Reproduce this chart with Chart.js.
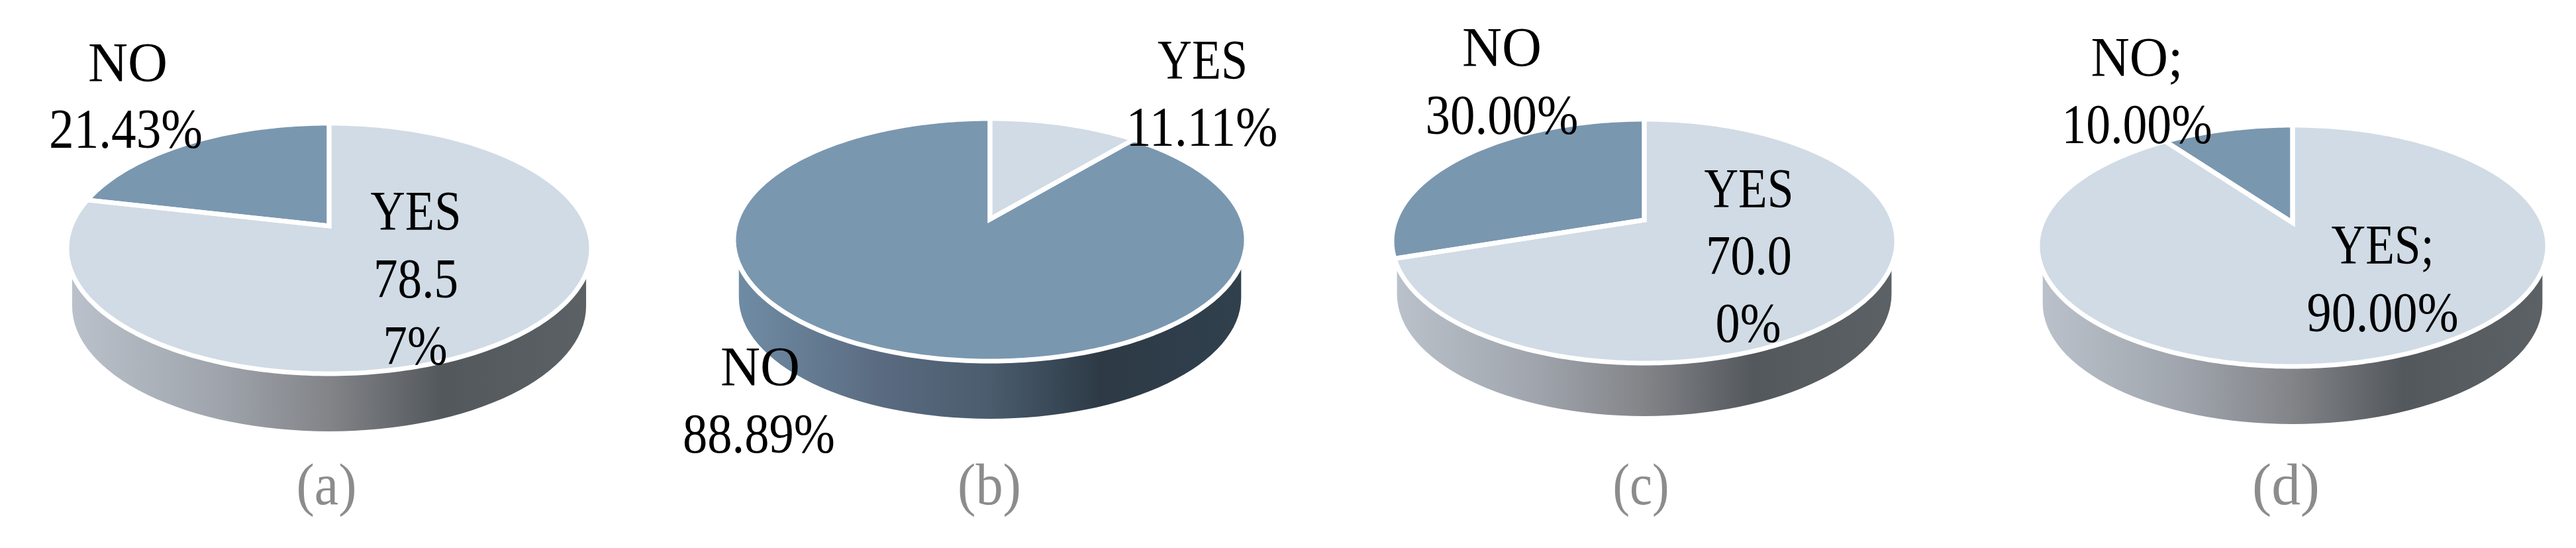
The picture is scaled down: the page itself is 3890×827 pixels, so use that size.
<!DOCTYPE html>
<html>
<head>
<meta charset="utf-8">
<style>
  html, body { margin: 0; background: #fff; }
  #page { position: relative; width: 3890px; height: 827px; overflow: hidden; }
  canvas { position: absolute; top: 0; }
</style>
</head>
<body>
<div id="page"></div>
<script src="https://cdn.jsdelivr.net/npm/chart.js@4/dist/chart.umd.js"></script>
<script>
// ---- Data: slices run clockwise from 12 o'clock ----
const categories = ['YES', 'NO'];
const valuesA = [78.57, 21.43];
const valuesB = [11.11, 88.89];
const valuesC = [70.0, 30.0];
const valuesD = [90.0, 10.0];
const captions = ['(a)', '(b)', '(c)', '(d)'];

// Label text as it wraps in the figure
const linesA = ['NO', '21.43%', 'YES', '78.5', '7%'];
const linesB = ['YES', '11.11%', 'NO', '88.89%'];
const linesC = ['NO', '30.00%', 'YES', '70.0', '0%'];
const linesD = ['NO;', '10.00%', 'YES;', '90.00%'];

// ---- Layout, in page pixels. at = [centre x, baseline y, text width] ----
const panels = [
  { values: valuesA, lines: linesA, slot: [0, 1000], cx: 497, cy: 375, rx: 396, ry: 189, depth: 87, apex: -0.18, cap: [493, 91],
    at: [[193, 123, 120], [190, 223, 232], [628, 347, 137], [628, 449, 128], [627, 550, 97]] },
  { values: valuesB, lines: linesB, slot: [1000, 1990], cx: 1495, cy: 362, rx: 387, ry: 183, depth: 87, apex: -0.17, cap: [1494, 96],
    at: [[1816, 119, 136], [1815, 220, 229], [1148, 582, 120], [1146, 683, 230]] },
  { values: valuesC, lines: linesC, slot: [1990, 2960], cx: 2483, cy: 364, rx: 381, ry: 184, depth: 80, apex: -0.174, cap: [2478, 85],
    at: [[2268, 100, 120], [2268, 202, 231], [2641, 313, 135], [2641, 414, 130], [2640, 516, 99]] },
  { values: valuesD, lines: linesD, slot: [2960, 3890], cx: 3462, cy: 371, rx: 385, ry: 182, depth: 87, apex: -0.192, cap: [3452, 102],
    at: [[3227, 115, 139], [3227, 216, 227], [3598, 398, 155], [3598, 500, 229]] },
];
const PAGE_H = 827;
const CAPTION_Y = 761;

const faceColors = ['#d0dbe5', '#7a97b0'];
// side wall shading, left to right, one ramp per category
const wallStops = [
  ['#bac1ca', '#a0a5ad', '#828488', '#53585c', '#5b6165'],
  ['#6f8ca4', '#5a6b81', '#4a5c6d', '#2d3a46', '#30404d'],
];
const wallPos = [0, 0.28, 0.5, 0.72, 1];

// Maps a circle angle onto the tilted disc. The centre lands on the apex,
// above the middle of the ellipse, the way a perspective 3D pie does.
function project(arc, angle, cfg) {
  const u = Math.cos(angle), v = Math.sin(angle), a = cfg.apex;
  const den = 1 + a * v;
  return {
    x: arc.x + arc.outerRadius * u * Math.sqrt(1 - a * a) / den,
    y: arc.y + cfg.ry * (v + a) / den,
  };
}

function drawWall(ctx, arc, index, cfg) {
  const wrx = arc.outerRadius * 0.98;
  const g = ctx.createLinearGradient(arc.x - wrx, 0, arc.x + wrx, 0);
  wallStops[index].forEach((c, i) => g.addColorStop(wallPos[i], c));
  ctx.beginPath();
  ctx.moveTo(arc.x - wrx, arc.y);
  ctx.lineTo(arc.x - wrx, arc.y + cfg.depth);
  ctx.ellipse(arc.x, arc.y + cfg.depth, wrx, cfg.ry, 0, Math.PI, 0, true);
  ctx.lineTo(arc.x + wrx, arc.y);
  ctx.closePath();
  ctx.fillStyle = g;
  ctx.fill();
}

function traceSlice(ctx, arc, cfg) {
  ctx.beginPath();
  ctx.moveTo(arc.x, arc.y + cfg.ry * cfg.apex);
  const steps = Math.ceil((arc.endAngle - arc.startAngle) * 180 / Math.PI);
  for (let i = 0; i <= steps; i++) {
    const p = project(arc, arc.startAngle + (arc.endAngle - arc.startAngle) * i / steps, cfg);
    ctx.lineTo(p.x, p.y);
  }
  ctx.closePath();
}

const tiltedPie = {
  id: 'tiltedPie',
  beforeDatasetsDraw(chart, args, cfg) {
    const ctx = chart.ctx;
    const arcs = chart.getDatasetMeta(0).data;
    // the slice at 6 o'clock owns the visible wall
    const front = arcs.findIndex((a) => a.startAngle <= Math.PI / 2 && a.endAngle >= Math.PI / 2);
    ctx.save();
    drawWall(ctx, arcs[front], front, cfg);
    arcs.forEach((arc) => {
      traceSlice(ctx, arc, cfg);
      ctx.fillStyle = arc.options.backgroundColor;
      ctx.fill();
    });
    ctx.strokeStyle = '#fff';
    ctx.lineWidth = 7;
    ctx.lineJoin = 'miter';
    arcs.forEach((arc) => {
      traceSlice(ctx, arc, cfg);
      ctx.stroke();
    });
    ctx.restore();
    return false; // the flat default arcs are replaced by the tilted ones
  },
  afterDraw(chart, args, cfg) {
    const ctx = chart.ctx;
    ctx.save();
    ctx.textAlign = 'center';
    ctx.textBaseline = 'alphabetic';
    ctx.fillStyle = '#000';
    ctx.font = '84px "Liberation Serif"';
    cfg.lines.forEach((t, i) => ctx.fillText(t, cfg.at[i][0] - cfg.left, cfg.at[i][1], cfg.at[i][2]));
    ctx.fillStyle = '#8c8c8c';
    ctx.font = '88px "Liberation Serif"';
    ctx.fillText(cfg.caption, cfg.cap[0] - cfg.left, CAPTION_Y, cfg.cap[1]);
    ctx.restore();
  },
};

const page = document.getElementById('page');
panels.forEach((p, i) => {
  const [left, right] = p.slot;
  const w = right - left;
  const canvas = document.createElement('canvas');
  canvas.width = w;
  canvas.height = PAGE_H;
  canvas.style.left = left + 'px';
  page.append(canvas);

  // padding walks the chart area's centre over to the pie's centre
  const off = p.cx - left;
  new Chart(canvas, {
    type: 'pie',
    data: {
      labels: categories,
      datasets: [{ data: p.values, backgroundColor: faceColors, radius: p.rx }],
    },
    options: {
      responsive: false,
      animation: false,
      layout: {
        padding: {
          left: Math.max(0, 2 * off - w),
          right: Math.max(0, w - 2 * off),
          top: Math.max(0, 2 * p.cy - PAGE_H),
          bottom: Math.max(0, PAGE_H - 2 * p.cy),
        },
      },
      plugins: {
        legend: { display: false },
        tooltip: { enabled: false },
        tiltedPie: {
          ry: p.ry, depth: p.depth, apex: p.apex, lines: p.lines, at: p.at,
          left, caption: captions[i], cap: p.cap,
        },
      },
    },
    plugins: [tiltedPie],
  });
});
</script>
</body>
</html>
